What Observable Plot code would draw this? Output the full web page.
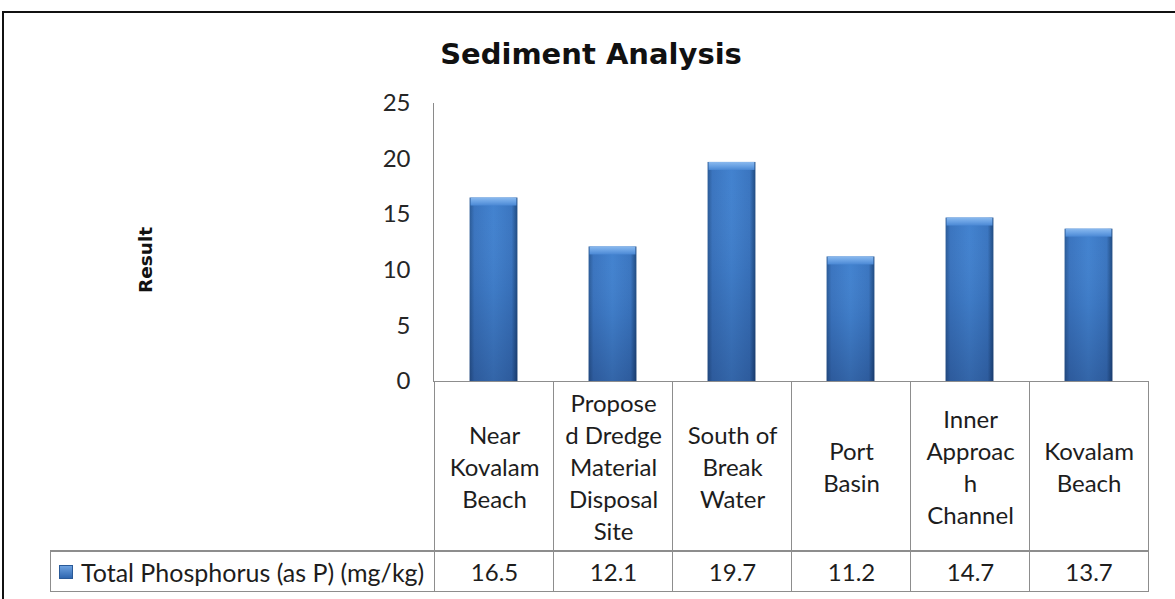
<!DOCTYPE html>
<html><head><meta charset="utf-8">
<script src="https://cdn.jsdelivr.net/npm/d3@7"></script>
<script src="https://cdn.jsdelivr.net/npm/@observablehq/plot@0.6"></script>
<style>
html,body{margin:0;padding:0;background:#fff;}
body{width:1175px;height:599px;overflow:hidden;position:relative;font-family:Lato,"Open Sans",sans-serif;}
#frame{position:absolute;left:2px;top:11px;width:1300px;height:700px;border-top:2px solid #111;border-left:2px solid #111;box-sizing:border-box;}
#title{position:absolute;left:0;top:39px;width:1182px;height:30px;line-height:30px;text-align:center;font-family:"DejaVu Sans",sans-serif;font-weight:bold;font-size:29px;color:#111;}
#ylabel{position:absolute;left:146px;top:260px;transform:translate(-50%,-50%) rotate(-90deg);font-family:"DejaVu Sans",sans-serif;font-weight:bold;font-size:18.5px;line-height:20px;color:#111;white-space:nowrap;}
#chart{position:absolute;left:0;top:0;}
.cell{position:absolute;box-sizing:border-box;border-color:#8d8d8d;border-style:solid;border-width:0;display:flex;align-items:center;justify-content:center;text-align:center;color:#1d1d1d;font-size:24px;line-height:32px;white-space:pre-line;}
.sw{display:inline-block;width:14px;height:14px;margin-right:8px;background:linear-gradient(to bottom,#6ea2e0,#2f67b0);border:1px solid #2a5a98;box-sizing:border-box;}
</style></head>
<body>
<div id="frame"></div>
<div id="title"></div>
<div id="ylabel"></div>
<div id="chart"></div>
<div id="table"></div>
<script>
// ---- data ----
const chartTitle = "Sediment Analysis";
const yLabel = "Result";
const seriesName = "Total Phosphorus (as P) (mg/kg)";
const categories = ["Near Kovalam Beach", "Proposed Dredge Material Disposal Site", "South of Break Water", "Port Basin", "Inner Approach Channel", "Kovalam Beach"];
const categoryLabels = ["Near\nKovalam\nBeach", "Propose\nd Dredge\nMaterial\nDisposal\nSite", "South of\nBreak\nWater", "Port\nBasin", "Inner\nApproac\nh\nChannel", "Kovalam\nBeach"];
const values = [16.5, 12.1, 19.7, 11.2, 14.7, 13.7];
const valueLabels = ["16.5", "12.1", "19.7", "11.2", "14.7", "13.7"];
const yTicks = [0, 5, 10, 15, 20, 25];

const data = categories.map((c, i) => ({cat: c, v: values[i]}));

// ---- layout ----
const W = 1175, plotTop = 103, baseY = 381, left = 433, right = 1148;
const step = (right - left) / categories.length;
const barW = 48;
const inset = (step - barW) / 2;

document.getElementById("title").textContent = chartTitle;
document.getElementById("ylabel").textContent = yLabel;

const chart = Plot.plot({
  width: W, height: baseY + 1,
  marginTop: plotTop, marginBottom: 1, marginLeft: left, marginRight: W - right,
  x: {domain: categories, padding: 0, axis: null},
  y: {domain: [0, 25]},
  style: {background: "transparent", fontFamily: "Lato, 'Open Sans', sans-serif", color: "#262626", overflow: "visible"},
  marks: [
    Plot.axisY({ticks: yTicks, tickSize: 0, tickPadding: 23, fontSize: 24, label: null, tickFormat: d => String(d)}),
    Plot.barY(data, {x: "cat", y: "v", fill: "url(#barH)", insetLeft: inset, insetRight: inset}),
    Plot.barY(data, {x: "cat", y: "v", fill: "url(#barV)", insetLeft: inset, insetRight: inset}),
    Plot.barY(data, {x: "cat", y1: d => d.v - 0.72, y2: "v", fill: "url(#barTop)", insetLeft: inset + 1, insetRight: inset + 1}),
    Plot.frame({anchor: "left", stroke: "#8a8a8a"}),
    Plot.ruleY([0], {stroke: "#8a8a8a"})
  ]
});
document.getElementById("chart").appendChild(chart);

// gradients for bevelled bars
const defs = d3.select(chart).insert("defs", ":first-child");
function grad(id, horiz, stops) {
  const g = defs.append("linearGradient").attr("id", id)
    .attr("x1", 0).attr("y1", 0).attr("x2", horiz ? 1 : 0).attr("y2", horiz ? 0 : 1);
  stops.forEach(([o, c, a]) => g.append("stop").attr("offset", o).attr("stop-color", c).attr("stop-opacity", a ?? 1));
}
grad("barH", true, [[0, "#2a5a96"], [0.1, "#3a74bf"], [0.5, "#4282cf"], [0.88, "#3a75c0"], [1, "#1f4a80"]]);
grad("barV", false, [[0, "#ffffff", 0], [0.5, "#000020", 0.05], [1, "#000020", 0.22]]);
grad("barTop", false, [[0, "#8ab9ee"], [0.5, "#6aa2e4"], [1, "#4a88d4"]]);

// ---- data table ----
const xs = chart.scale("x");
const table = document.getElementById("table");
function cell(l, t, w, h, borders, content) {
  const d = document.createElement("div");
  d.className = "cell";
  Object.assign(d.style, {left: l + "px", top: t + "px", width: w + "px", height: h + "px"});
  Object.assign(d.style, borders);
  if (typeof content === "string") d.textContent = content; else d.appendChild(content);
  table.appendChild(d);
  return d;
}
categories.forEach((c, i) => {
  const x0 = xs.apply(c);
  const last = i === categories.length - 1;
  cell(x0, baseY, step + 1, 170, {borderLeftWidth: "1px", borderTopWidth: "1px", borderRightWidth: last ? "1px" : "0"}, categoryLabels[i]);
  cell(x0, baseY + 169, step + 1, 42, {borderLeftWidth: "1px", borderTopWidth: "2px", borderBottomWidth: "1px", borderRightWidth: last ? "1px" : "0"}, valueLabels[i]);
});
const leg = document.createElement("span");
leg.innerHTML = '<span class="sw"></span>';
leg.appendChild(document.createTextNode(seriesName));
leg.style.display = "flex"; leg.style.alignItems = "center"; leg.style.fontSize = "25px";
const lc = cell(50, baseY + 169, left - 50 + 1, 42, {borderLeftWidth: "1px", borderTopWidth: "2px", borderBottomWidth: "1px"}, leg);
lc.style.justifyContent = "flex-start"; lc.style.paddingLeft = "8px";
</script>
</body></html>
